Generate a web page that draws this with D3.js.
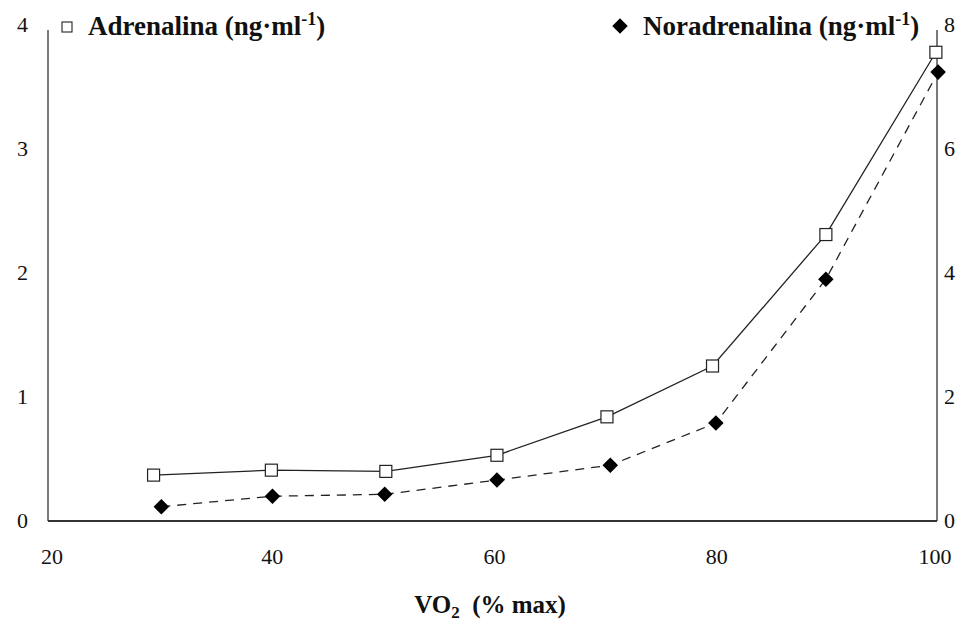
<!DOCTYPE html>
<html><head><meta charset="utf-8">
<script src="https://cdn.jsdelivr.net/npm/d3@7"></script>
<style>body{margin:0;background:#fff}svg{display:block}text{font-family:"Liberation Serif","Times New Roman",serif;fill:#111}</style>
</head><body>
<script>
const adrX = [29.5, 40.1, 50.4, 60.4, 70.3, 79.8, 90.0, 99.9];
const adrY = [0.37, 0.41, 0.40, 0.53, 0.84, 1.25, 2.31, 3.78];
const norX = [30.2, 40.2, 50.3, 60.4, 70.6, 80.1, 90.0, 100.1];
const norY = [0.23, 0.40, 0.43, 0.66, 0.90, 1.58, 3.90, 7.24];
const xTicks = [20, 40, 60, 80, 100];
const yLeftTicks = [0, 1, 2, 3, 4];
const yRightTicks = [0, 2, 4, 6, 8];

const W = 963, H = 624;
const svg = d3.select("body").append("svg").attr("width", W).attr("height", H);
const x = d3.scaleLinear().domain([20, 100]).range([48, 937]);
const yL = d3.scaleLinear().domain([0, 4]).range([521, 25]);
const yR = d3.scaleLinear().domain([0, 8]).range([521, 25]);

// axes lines
const g = svg.append("g").attr("stroke", "#333").attr("stroke-width", 1.3);
g.append("line").attr("x1", x(20)).attr("x2", x(20)).attr("y1", 30).attr("y2", yL(0));
g.append("line").attr("x1", x(100)).attr("x2", x(100)).attr("y1", 30).attr("y2", yL(0));
g.append("line").attr("x1", x(20)).attr("x2", x(100)).attr("y1", yL(0)).attr("y2", yL(0)).attr("stroke-width", 2);

// tick labels
svg.selectAll(".xt").data(xTicks).enter().append("text")
  .attr("x", d => x(d) + (d === 20 ? 4 : (d === 100 ? -2 : 2))).attr("y", 564).attr("text-anchor", "middle")
  .attr("font-size", 22).text(d => d);
svg.selectAll(".yl").data(yLeftTicks).enter().append("text")
  .attr("x", 28).attr("y", d => yL(d) + 7).attr("text-anchor", "end")
  .attr("font-size", 22).text(d => d);
svg.selectAll(".yr").data(yRightTicks).enter().append("text")
  .attr("x", 944).attr("y", d => yR(d) + 7).attr("text-anchor", "start")
  .attr("font-size", 22).text(d => d);

// lines
const adr = adrX.map((v, i) => [v, adrY[i]]);
const nor = norX.map((v, i) => [v, norY[i]]);
svg.append("path").attr("d", d3.line().x(d => x(d[0])).y(d => yL(d[1]))(adr))
  .attr("fill", "none").attr("stroke", "#222").attr("stroke-width", 1.3);
svg.append("path").attr("d", d3.line().x(d => x(d[0])).y(d => yR(d[1]))(nor))
  .attr("fill", "none").attr("stroke", "#222").attr("stroke-width", 1.3).attr("stroke-dasharray", "9,7");

// markers
svg.selectAll(".sq").data(adr).enter().append("rect")
  .attr("x", d => x(d[0]) - 6).attr("y", d => yL(d[1]) - 6).attr("width", 12).attr("height", 12)
  .attr("fill", "#fff").attr("stroke", "#222").attr("stroke-width", 1.2);
svg.selectAll(".di").data(nor).enter().append("rect")
  .attr("transform", d => `translate(${x(d[0])},${yR(d[1])}) rotate(45)`)
  .attr("x", -5.5).attr("y", -5.5).attr("width", 11).attr("height", 11).attr("fill", "#000");

// legends
svg.append("rect").attr("x", 62).attr("y", 22).attr("width", 10).attr("height", 10)
  .attr("fill", "#fff").attr("stroke", "#222").attr("stroke-width", 1.1);
const t1 = svg.append("text").attr("x", 88).attr("y", 35).attr("font-size", 27).attr("font-weight", "bold");
t1.append("tspan").text("Adrenalina (ng·ml");
t1.append("tspan").attr("dy", -10).attr("font-size", 18).text("-1");
t1.append("tspan").attr("dy", 10).text(")");

svg.append("rect").attr("transform", "translate(620,26) rotate(45)")
  .attr("x", -5.5).attr("y", -5.5).attr("width", 11).attr("height", 11).attr("fill", "#000");
const t2 = svg.append("text").attr("x", 643).attr("y", 35).attr("font-size", 27).attr("font-weight", "bold");
t2.append("tspan").text("Noradrenalina (ng·ml");
t2.append("tspan").attr("dy", -10).attr("font-size", 18).text("-1");
t2.append("tspan").attr("dy", 10).text(")");

// x label
const xl = svg.append("text").attr("x", 490).attr("y", 613).attr("text-anchor", "middle")
  .attr("font-size", 25).attr("font-weight", "bold");
xl.append("tspan").text("VO");
xl.append("tspan").attr("dy", 5).attr("font-size", 17).text("2");
xl.append("tspan").attr("dy", -5).attr("xml:space", "preserve").text("  (% max)");
</script>
</body></html>
